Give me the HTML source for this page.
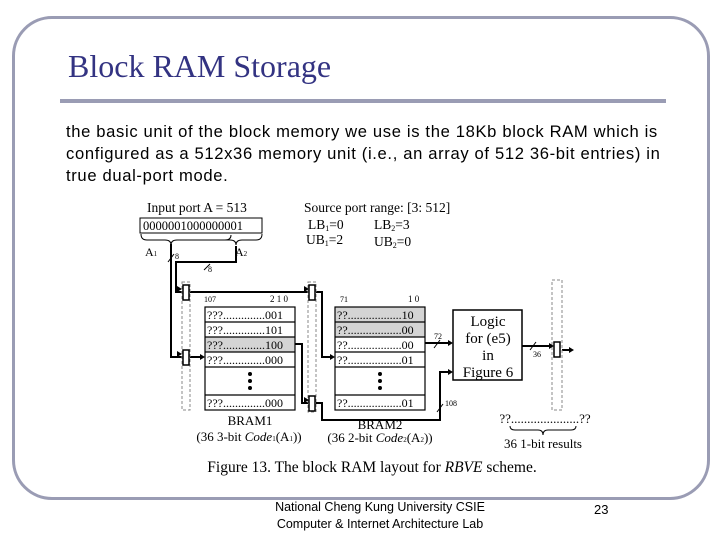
<!DOCTYPE html>
<html><head><meta charset="utf-8"><style>
body{margin:0;width:720px;height:540px;background:#fff;overflow:hidden;position:relative;font-family:"Liberation Sans",sans-serif}
.frame{position:absolute;left:12px;top:16px;width:692px;height:478px;border:3px solid #9a9cb4;border-radius:40px}
.title{position:absolute;left:68px;top:48px;font-family:"Liberation Serif",serif;font-size:32px;color:#333382}
.rule{position:absolute;left:60px;top:99px;width:606px;height:4px;background:#9a9cb4}
.body{position:absolute;left:66px;top:121px;font-size:16.6px;letter-spacing:0.65px;line-height:22px;color:#000;width:640px;white-space:nowrap}
.foot{position:absolute;left:230px;top:499px;width:300px;text-align:center;font-size:12.5px;line-height:17px}
.num{position:absolute;left:594px;top:502px;font-size:13px}
</style></head><body>
<div class="frame"></div>
<div class="title">Block RAM Storage</div>
<div class="rule"></div>
<div class="body">the basic unit of the block memory we use is the 18Kb block RAM which is<br>configured as a 512x36 memory unit (i.e., an array of 512 36-bit entries) in<br>true dual-port mode.</div>
<svg style="position:absolute;left:0;top:0" width="720" height="540" font-family="Liberation Serif,serif">
<g font-size="13.5">
<text x="147" y="212">Input port A = 513</text>
<text x="304" y="212">Source port range: [3: 512]</text>
<text x="308" y="229">LB<tspan font-size="8" dy="2">1</tspan><tspan dy="-2">=0</tspan></text>
<text x="374" y="229">LB<tspan font-size="8" dy="2">2</tspan><tspan dy="-2">=3</tspan></text>
<text x="306" y="244">UB<tspan font-size="8" dy="2">1</tspan><tspan dy="-2">=2</tspan></text>
<text x="374" y="246">UB<tspan font-size="8" dy="2">2</tspan><tspan dy="-2">=0</tspan></text>
</g>
<rect x="140" y="218" width="122" height="15" fill="#fff" stroke="#000"/>
<text x="143" y="230" font-size="12.5">0000001000000001</text>
<path d="M141 234 q0 6 6 6 h18 q6 0 6 5 q0-5 6-5 h48 q6 0 6-5 M208 240 h22 q6 0 6 5 q0-5 6-5 h14 q6 0 6-6" fill="none" stroke="#000"/>
<text x="145" y="256" font-size="12">A<tspan font-size="7">1</tspan></text>
<text x="235" y="256" font-size="12">A<tspan font-size="7">2</tspan></text>
<text x="175" y="259" font-size="8">8</text><text x="208" y="272" font-size="8">8</text>
<g stroke="#000" stroke-width="2" fill="none">
<path d="M171 244 V357 H182"/>
<path d="M236 246 V262 H176 V292 H182"/>
<path d="M190 292 H309"/>
<path d="M190 357 H202"/>
<path d="M295 344 H302 V403 H308"/>
<path d="M316 292 H322 V357 H332"/>
<path d="M425 343 H450"/>
<path d="M316 403 H322 V420 H440 V372 H450"/>
<path d="M522 346 H552"/>
<path d="M562 350 H570"/>
</g>
<g stroke="#000" stroke-width="1">
<line x1="168" y1="262" x2="174" y2="254"/><line x1="204" y1="270" x2="210" y2="264"/>
<line x1="434" y1="348" x2="440" y2="340"/><line x1="437" y1="412" x2="443" y2="404"/>
<line x1="530" y1="350" x2="536" y2="342"/>
</g>
<g font-size="8"><text x="434" y="339">72</text><text x="445" y="406">108</text><text x="533" y="357">36</text></g>
<g stroke="#888" stroke-dasharray="3,2" fill="none">
<rect x="182" y="282" width="8" height="128"/>
<rect x="308" y="282" width="8" height="130"/>
<rect x="552" y="280" width="10" height="130"/>
</g>
<g fill="#fff" stroke="#000" stroke-width="1.5">
<rect x="183" y="285" width="6" height="15"/><rect x="183" y="350" width="6" height="15"/>
<rect x="309" y="285" width="6" height="15"/><rect x="309" y="396" width="6" height="15"/>
<rect x="554" y="342" width="6" height="15"/>
</g>
<g fill="#000"><path d="M182 289 l-5-3v6z"/><path d="M182 354 l-5-3v6z"/><path d="M309 289 l-5-3v6z"/><path d="M309 400 l-5-3v6z"/><path d="M205 357 l-5-3v6z"/><path d="M335 357 l-5-3v6z"/><path d="M453 343 l-5-3v6z"/><path d="M453 372 l-5-3v6z"/><path d="M554 346 l-5-3v6z"/><path d="M574 350 l-5-3v6z"/></g>
<text x="204" y="302" font-size="8">107</text><text x="270" y="302" font-size="9">2 1 0</text>
<rect x="205" y="337" width="90" height="15" fill="#d4d4d4"/>
<g fill="none" stroke="#000" stroke-width="1.2">
<rect x="205" y="307" width="90" height="103"/>
<line x1="205" y1="322" x2="295" y2="322"/><line x1="205" y1="337" x2="295" y2="337"/><line x1="205" y1="352" x2="295" y2="352"/><line x1="205" y1="367" x2="295" y2="367"/><line x1="205" y1="395" x2="295" y2="395"/>
</g>
<g font-size="12"><text x="207" y="319">???..............001</text><text x="207" y="334">???..............101</text><text x="207" y="349">???..............100</text><text x="207" y="364">???..............000</text><text x="207" y="407">???..............000</text></g>
<g fill="#000"><circle cx="250" cy="374" r="2"/><circle cx="250" cy="381" r="2"/><circle cx="250" cy="388" r="2"/><circle cx="380" cy="374" r="2"/><circle cx="380" cy="381" r="2"/><circle cx="380" cy="388" r="2"/></g>
<text x="340" y="302" font-size="8">71</text><text x="408" y="302" font-size="9">1 0</text>
<rect x="335" y="307" width="90" height="30" fill="#d4d4d4"/>
<g fill="none" stroke="#000" stroke-width="1.2">
<rect x="335" y="307" width="90" height="103"/>
<line x1="335" y1="322" x2="425" y2="322"/><line x1="335" y1="337" x2="425" y2="337"/><line x1="335" y1="352" x2="425" y2="352"/><line x1="335" y1="367" x2="425" y2="367"/><line x1="335" y1="395" x2="425" y2="395"/>
</g>
<g font-size="12"><text x="337" y="319">??..................10</text><text x="337" y="334">??..................00</text><text x="337" y="349">??..................00</text><text x="337" y="364">??..................01</text><text x="337" y="407">??..................01</text></g>
<rect x="453" y="310" width="69" height="70" fill="#fff" stroke="#000" stroke-width="1.5"/>
<g font-size="15" text-anchor="middle"><text x="488" y="326">Logic</text><text x="488" y="343">for (e5)</text><text x="488" y="360">in</text><text x="488" y="377">Figure 6</text></g>
<g font-size="13" text-anchor="middle">
<text x="250" y="425">BRAM1</text><text x="249" y="441">(36 3-bit <tspan font-style="italic">Code</tspan><tspan font-size="7">1</tspan>(A<tspan font-size="7">1</tspan>))</text>
<text x="380" y="429">BRAM2</text><text x="380" y="442">(36 2-bit <tspan font-style="italic">Code</tspan><tspan font-size="7">2</tspan>(A<tspan font-size="7">2</tspan>))</text>
<text x="545" y="423">??.....................??</text>
<text x="543" y="448">36 1-bit results</text>
<text x="372" y="472" font-size="15.5">Figure 13. The block RAM layout for <tspan font-style="italic">RBVE</tspan> scheme.</text>
</g>
<path d="M510 426 q0 4 5 4 h23 q5 0 5 5 q0-5 5-5 h23 q5 0 5-4" fill="none" stroke="#000"/>
</svg>
<div class="foot">National Cheng Kung University CSIE<br>Computer &amp; Internet Architecture Lab</div>
<div class="num">23</div>
</body></html>
